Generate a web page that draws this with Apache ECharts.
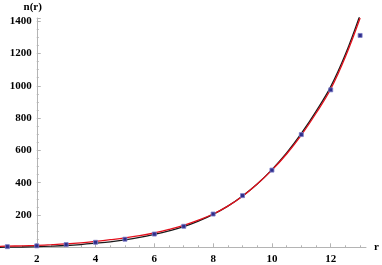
<!DOCTYPE html>
<html>
<head>
<meta charset="utf-8">
<script src="https://cdn.jsdelivr.net/npm/echarts@6/dist/echarts.min.js"></script>
<style>
  html, body { margin: 0; padding: 0; background: #fff; }
  #chart { width: 382px; height: 265px; }
</style>
</head>
<body>
<div id="chart"></div>
<script>
// measured points with error bars
const rVals = [1, 2, 3, 4, 5, 6, 7, 8, 9, 10, 11, 12, 13]
const nVals = [4, 9, 17, 31, 50, 82, 130, 206, 320, 478, 698, 975, 1312]
const nErr = [2, 2, 2, 3, 3, 4, 5, 5, 6, 7, 8, 8, 12]

// fitted curves
const curveR = [0.75, 1, 1.5, 2, 2.5, 3, 3.5, 4, 4.5, 5, 5.5, 6, 6.5, 7, 7.5, 8, 8.5, 9, 9.5, 10, 10.5, 11, 11.5, 12, 12.5, 13]
const redFit = [6, 7, 9, 12, 16, 21, 28, 37, 47, 58, 72, 90, 111, 136, 168, 206, 255, 316, 392, 478, 578, 695, 830, 980, 1180, 1420]
const blackFit = [0, 1, 2, 4, 7, 11, 17, 25, 34, 46, 61, 80, 102, 128, 162, 204, 255, 318, 392, 481, 584, 705, 842, 995, 1195, 1440]

// axis ticks
const xMajor = [2, 4, 6, 8, 10, 12]
const xMinor = [1, 1.5, 2.5, 3, 3.5, 4.5, 5, 5.5, 6.5, 7, 7.5, 8.5, 9, 9.5, 10.5, 11, 11.5, 12.5, 13]
const yLabels = [200, 400, 600, 800, 1000, 1200, 1400]

const labelFont = { color: '#000', fontFamily: 'Liberation Serif', fontWeight: 'bold', fontSize: 11 }
const axisGray = '#b4b4b4'

const chart = echarts.init(document.getElementById('chart'))

chart.setOption({
  animation: false,
  grid: { left: 0, right: 16, top: 18, bottom: 17.7 },
  xAxis: [
    {
      type: 'value', min: 0.75, max: 13.2,
      name: 'r', nameLocation: 'end', nameGap: 8,
      nameTextStyle: Object.assign({}, labelFont, { verticalAlign: 'middle' }),
      axisLine: { show: true, lineStyle: { color: axisGray, width: 1 } },
      axisTick: { show: true, inside: true, length: 4, customValues: xMajor, lineStyle: { color: axisGray } },
      axisLabel: Object.assign({ customValues: xMajor, margin: 6, formatter: v => String(v) }, labelFont),
      splitLine: { show: false }
    },
    {
      type: 'value', min: 0.75, max: 13.2, position: 'bottom',
      axisLine: { show: false },
      axisTick: { show: true, inside: true, length: 2, customValues: xMinor, lineStyle: { color: axisGray } },
      axisLabel: { show: false },
      splitLine: { show: false }
    }
  ],
  yAxis: {
    type: 'value', min: 0, max: 1420, interval: 200,
    position: 'left', offset: -36.75,
    name: 'n(r)', nameLocation: 'end', nameGap: 5,
    nameTextStyle: Object.assign({}, labelFont, { padding: [0, 8, 0, 0] }),
    axisLine: { show: true, lineStyle: { color: axisGray, width: 1 } },
    axisTick: { show: true, inside: true, length: 4, lineStyle: { color: axisGray } },
    minorTick: { show: true, splitNumber: 4, length: 2, lineStyle: { color: axisGray } },
    axisLabel: Object.assign({ margin: 5, customValues: yLabels, formatter: v => String(v) }, labelFont),
    splitLine: { show: false }
  },
  series: [
    {
      type: 'line', name: 'black fit',
      data: curveR.map((r, i) => [r, blackFit[i]]),
      smooth: 0.4, symbol: 'none',
      lineStyle: { color: '#1a1a1a', width: 1.3 }
    },
    {
      type: 'line', name: 'red fit',
      data: curveR.map((r, i) => [r, redFit[i]]),
      smooth: 0.4, symbol: 'none',
      lineStyle: { color: '#e3101c', width: 1.3 }
    },
    {
      type: 'custom', name: 'data',
      data: rVals.map((r, i) => [r, nVals[i], nErr[i]]),
      renderItem: (params, api) => {
        const top = api.coord([api.value(0), api.value(1) + api.value(2)])
        const bot = api.coord([api.value(0), api.value(1) - api.value(2)])
        const h = Math.max(4, bot[1] - top[1])
        const cy = (top[1] + bot[1]) / 2
        return {
          type: 'rect',
          shape: { x: top[0] - 2, y: cy - h / 2, width: 4, height: h },
          style: { fill: '#2e2e8a', stroke: '#7c7cc8', lineWidth: 0.8 }
        }
      },
      z: 5
    }
  ]
})
</script>
</body>
</html>
